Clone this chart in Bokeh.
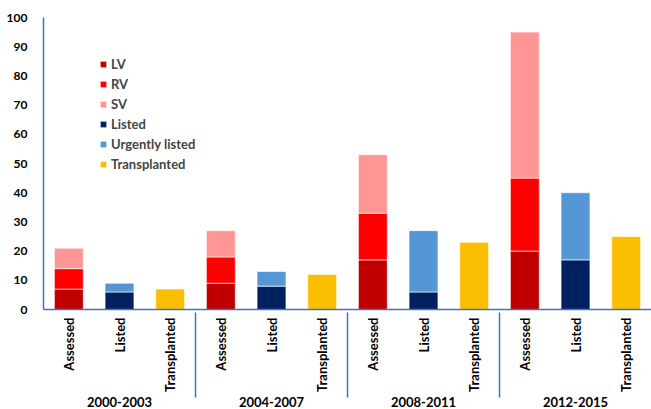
import math
from bokeh.plotting import figure
from bokeh.models import FactorRange, ColumnDataSource, Range1d, FixedTicker, Legend, LegendItem
from bokeh.embed import file_html
from bokeh.resources import INLINE

periods = ["2000-2003", "2004-2007", "2008-2011", "2012-2015"]
kinds = ["Assessed", "Listed", "Transplanted"]

lv = [7, 9, 17, 20]
rv = [7, 9, 16, 25]
sv = [7, 9, 20, 50]
listed = [6, 8, 6, 17]
urgent = [3, 5, 21, 23]
transplanted = [7, 12, 23, 25]

y_ticks = [0, 10, 20, 30, 40, 50, 60, 70, 80, 90, 100]

FONT = "Lato"
BLUE = "#4472C4"

factors = [(per, k) for per in periods for k in kinds]
x_range = FactorRange(*factors, range_padding=0, group_padding=0, factor_padding=0)

p = figure(x_range=x_range, y_range=Range1d(0, 100), width=651, height=409,
           output_backend="svg", toolbar_location=None,
           min_border_left=43, min_border_top=17, min_border_right=0, min_border_bottom=100)

src_a = ColumnDataSource(dict(x=[(per, "Assessed") for per in periods], LV=lv, RV=rv, SV=sv))
src_l = ColumnDataSource(dict(x=[(per, "Listed") for per in periods], Listed=listed, Urgent=urgent))
src_t = ColumnDataSource(dict(x=[(per, "Transplanted") for per in periods], T=transplanted))

W = 0.57
ra = p.vbar_stack(["LV", "RV", "SV"], x="x", width=W, source=src_a,
                  color=["#C00000", "#FF0000", "#FF9595"], line_color="white", line_width=0.6)
rl = p.vbar_stack(["Listed", "Urgent"], x="x", width=W, source=src_l,
                  color=["#002060", "#5596D5"], line_color="white", line_width=0.6)
rt = p.vbar_stack(["T"], x="x", width=W, source=src_t,
                  color=["#FBBE00"], line_color="white", line_width=0.6)

labels = ["LV", "RV", "SV", "Listed", "Urgently listed", "Transplanted"]
rends = list(ra) + list(rl) + list(rt)
legend = Legend(items=[LegendItem(label=l, renderers=[r]) for l, r in zip(labels, rends)],
                location=(56, 137), padding=0, margin=0, spacing=4,
                glyph_width=8, glyph_height=8, label_height=14, label_standoff=4,
                label_text_font=FONT, label_text_font_style="bold", label_text_font_size="13px",
                background_fill_alpha=0, border_line_color=None)
p.add_layout(legend)

p.xgrid.grid_line_color = None
p.ygrid.grid_line_color = None
p.outline_line_color = None

ya = p.yaxis[0]
ya.ticker = FixedTicker(ticks=y_ticks)
ya.axis_line_color = BLUE
ya.axis_line_width = 1.5
ya.major_tick_line_color = None
ya.minor_tick_line_color = None
ya.major_label_text_font = FONT
ya.major_label_text_font_style = "bold"
ya.major_label_text_font_size = "12px"
ya.major_label_text_color = "black"
ya.major_label_standoff = 10

xa = p.xaxis[0]
xa.axis_line_color = BLUE
xa.axis_line_width = 1.5
xa.major_tick_line_color = None
xa.minor_tick_line_color = None
xa.major_label_orientation = math.pi / 2
xa.major_label_text_font = FONT
xa.major_label_text_font_style = "bold"
xa.major_label_text_font_size = "13px"
xa.major_label_text_color = "black"
xa.major_label_standoff = 2
xa.group_text_font = FONT
xa.group_text_font_style = "bold"
xa.group_text_font_size = "13px"
xa.group_text_color = "black"
xa.separator_line_color = BLUE
xa.separator_line_width = 1.5

open("out.html", "w").write(file_html(p, INLINE))
